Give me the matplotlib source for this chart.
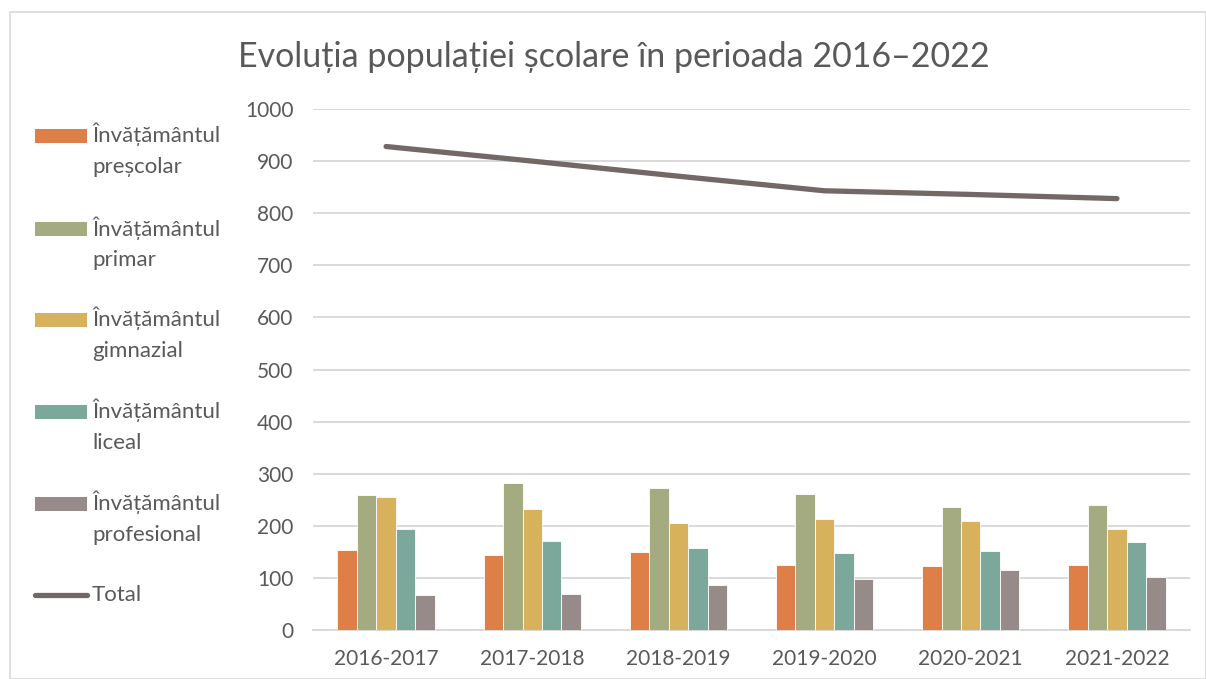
import matplotlib
matplotlib.use("Agg")
import matplotlib.pyplot as plt
import numpy as np
from matplotlib.patches import Rectangle
from matplotlib.lines import Line2D

categories = ["2016-2017", "2017-2018", "2018-2019", "2019-2020", "2020-2021", "2021-2022"]
series_names = ["Învățământul\npreșcolar", "Învățământul\nprimar", "Învățământul\ngimnazial",
                "Învățământul\nliceal", "Învățământul\nprofesional"]
prescolar = [153, 144, 149, 124, 122, 124]
primar = [260, 283, 273, 261, 237, 240]
gimnazial = [255, 232, 205, 214, 209, 194]
liceal = [193, 171, 158, 147, 152, 169]
profesional = [67, 70, 86, 97, 116, 101]
total = [928, 900, 871, 843, 836, 828]
total_name = "Total"
title = "Evoluția populației școlare în perioada 2016–2022"

colors = ["#DE7F48", "#A5AB80", "#D8B15C", "#7CA79B", "#968B88"]
line_color = "#726866"
text_color = "#595959"

plt.rcParams['font.family'] = ['Lato', 'DejaVu Sans']

W, H = 1206, 679
fig = plt.figure(figsize=(W/100, H/100), dpi=100)
ax = fig.add_axes([313/W, 1-630/H, (1190-313)/W, (630-109)/H])

x = np.arange(len(categories))
bw = 0.133
for i, vals in enumerate([prescolar, primar, gimnazial, liceal, profesional]):
    ax.bar(x + (i-2)*bw, vals, width=bw, color=colors[i], edgecolor='white',
           linewidth=0.6, label=series_names[i], zorder=3)
ax.plot(x, total, color=line_color, linewidth=3.8, solid_capstyle='round',
        label=total_name, zorder=4)

ax.set_xlim(-0.5, 5.5)
ax.set_ylim(0, 1000)
ax.set_yticks(np.arange(0, 1001, 100))
ax.set_xticks(x)
ax.set_xticklabels(categories)
ax.yaxis.grid(True, color="#D9D9D9", linewidth=1.4, zorder=0)
ax.set_axisbelow(True)
for s in ["top", "right", "left"]:
    ax.spines[s].set_visible(False)
ax.spines["bottom"].set_color("#D9D9D9")
ax.spines["bottom"].set_linewidth(1.4)
ax.tick_params(axis='both', length=0, labelsize=15, colors=text_color)
ax.tick_params(axis='y', pad=14)
ax.tick_params(axis='x', pad=14)

fig.text(614/W, 1-57/H, title, ha='center', va='center', fontsize=24.5, color=text_color)

# Legend drawn manually (patch aligned to first text line, as in the reference)
leg_y = [136, 229, 320, 412, 504]
for i, name in enumerate(series_names):
    yc = leg_y[i]
    fig.patches.append(Rectangle((35/W, 1-(yc+7)/H), 52/W, 14/H, transform=fig.transFigure,
                                 facecolor=colors[i], edgecolor='none'))
    fig.text(92/W, 1-(yc-13)/H, name, ha='left', va='top', fontsize=16,
             color=text_color, linespacing=1.68)
fig.lines.append(Line2D([35/W, 87/W], [1-595/H, 1-595/H], transform=fig.transFigure,
                        color=line_color, linewidth=3.8, solid_capstyle='round'))
fig.text(92/W, 1-595/H, total_name, ha='left', va='center', fontsize=16, color=text_color)

fig.patches.append(Rectangle((10/W, 0), 1-10/W, 1-12/H, transform=fig.transFigure,
                             fill=False, edgecolor="#D9D9D9", linewidth=1.2))

fig.savefig("out.png", dpi=100)
